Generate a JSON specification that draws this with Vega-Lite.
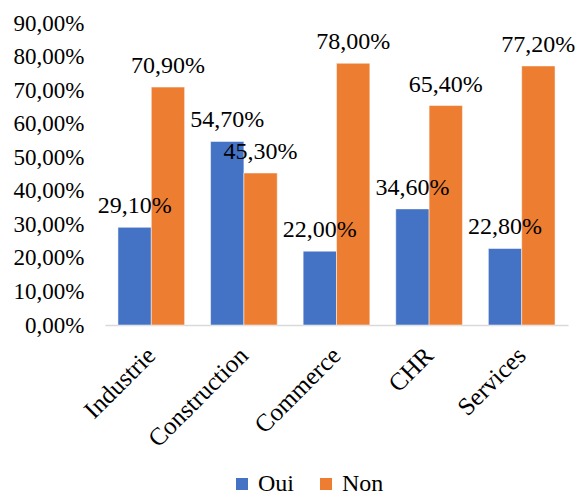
{
  "$schema": "https://vega.github.io/schema/vega-lite/v6.json",
  "autosize": "none",
  "width": 463,
  "height": 302,
  "padding": {"left": 105, "top": 23, "right": 12, "bottom": 172},
  "background": "white",
  "config": {
    "locale": {"number": {"decimal": ",", "thousands": " ", "grouping": [3], "currency": ["", " €"]}},
    "font": "Times New Roman, Liberation Serif, serif",
    "axis": {"labelFont": "Times New Roman, Liberation Serif, serif"},
    "legend": {"labelFont": "Times New Roman, Liberation Serif, serif"},
    "text": {"font": "Times New Roman, Liberation Serif, serif"},
    "view": {"stroke": null}
  },
  "data": {
    "values": [
      {"secteur": "Industrie", "reponse": "Oui", "valeur": 0.291},
      {"secteur": "Industrie", "reponse": "Non", "valeur": 0.709},
      {"secteur": "Construction", "reponse": "Oui", "valeur": 0.547},
      {"secteur": "Construction", "reponse": "Non", "valeur": 0.453},
      {"secteur": "Commerce", "reponse": "Oui", "valeur": 0.22},
      {"secteur": "Commerce", "reponse": "Non", "valeur": 0.78},
      {"secteur": "CHR", "reponse": "Oui", "valeur": 0.346},
      {"secteur": "CHR", "reponse": "Non", "valeur": 0.654},
      {"secteur": "Services", "reponse": "Oui", "valeur": 0.228},
      {"secteur": "Services", "reponse": "Non", "valeur": 0.772}
    ]
  },
  "encoding": {
    "x": {
      "field": "secteur", "type": "nominal",
      "sort": ["Industrie", "Construction", "Commerce", "CHR", "Services"],
      "scale": {"paddingInner": 0.28, "paddingOuter": 0.14},
      "axis": {
        "title": null, "labelAngle": -45, "labelAlign": "right", "labelBaseline": "middle",
        "labelFontSize": 25, "labelColor": "black", "labelPadding": 26,
        "ticks": false, "domainColor": "#D9D9D9", "domainWidth": 1.5, "grid": false
      }
    },
    "xOffset": {"field": "reponse", "type": "nominal", "sort": ["Oui", "Non"], "scale": {"paddingInner": 0}},
    "y": {
      "field": "valeur", "type": "quantitative",
      "scale": {"domain": [0, 0.9], "nice": false},
      "axis": {
        "title": null, "values": [0, 0.1, 0.2, 0.3, 0.4, 0.5, 0.6, 0.7, 0.8, 0.9],
        "format": ".2%", "labelFontSize": 23, "labelColor": "black", "labelPadding": 21,
        "ticks": false, "domain": false, "grid": false
      }
    }
  },
  "layer": [
    {
      "mark": {"type": "bar", "stroke": "white", "strokeWidth": 0.5},
      "encoding": {
        "color": {
          "field": "reponse", "type": "nominal", "sort": ["Oui", "Non"],
          "scale": {"domain": ["Oui", "Non"], "range": ["#4472C4", "#ED7D31"]},
          "legend": {
            "title": null, "orient": "none", "direction": "horizontal",
            "legendX": 125, "legendY": 449, "padding": 0,
            "symbolType": "square", "symbolSize": 144, "symbolStrokeWidth": 0,
            "labelFontSize": 24, "labelColor": "black", "labelOffset": 4, "columnPadding": 20
          }
        }
      }
    },
    {
      "mark": {"type": "text", "baseline": "alphabetic", "dy": -14, "fontSize": 24, "color": "black"},
      "encoding": {
        "text": {"field": "valeur", "type": "quantitative", "format": ".2%"}
      }
    }
  ]
}
